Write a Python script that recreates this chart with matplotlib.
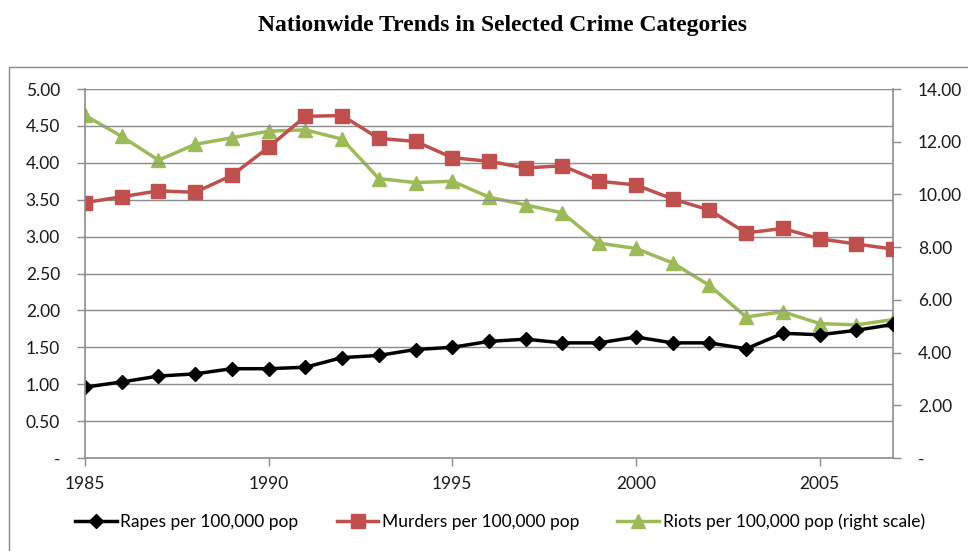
import matplotlib
matplotlib.use("Agg")
import matplotlib.pyplot as plt
from matplotlib.patches import Rectangle
from matplotlib.ticker import FuncFormatter, MultipleLocator

years = list(range(1985, 2008))

rapes = [0.96, 1.03, 1.11, 1.14, 1.21, 1.21, 1.23, 1.36, 1.39, 1.47, 1.50,
         1.58, 1.61, 1.56, 1.56, 1.64, 1.56, 1.56, 1.48, 1.69, 1.67, 1.73, 1.81]

murders = [3.46, 3.54, 3.62, 3.60, 3.83, 4.21, 4.63, 4.64, 4.33, 4.29, 4.07,
           4.02, 3.93, 3.96, 3.75, 3.70, 3.51, 3.36, 3.05, 3.11, 2.97, 2.90, 2.83]

# right scale
riots = [13.0, 12.2, 11.3, 11.9, 12.15, 12.4, 12.45, 12.1, 10.6, 10.45, 10.5,
         9.9, 9.6, 9.3, 8.15, 7.95, 7.4, 6.55, 5.35, 5.55, 5.1, 5.05, 5.25]

labels = ["Rapes per 100,000 pop", "Murders per 100,000 pop",
          "Riots per 100,000 pop (right scale)"]

col_rape = "#000000"
col_murder = "#c0504d"
col_riot = "#9bbb59"
grid_col = "#8c8c8c"
txt_col = "#1a1a1a"

plt.rcParams['font.family'] = ['Lato', 'DejaVu Sans']

fig = plt.figure(figsize=(9.68, 5.51), dpi=100)
ax = fig.add_axes([85/968, 1-458/551, (893-85)/968, (458-89)/551])
ax2 = ax.twinx()

# outer chart border
fig.patches.append(Rectangle((9/968, -0.05), 1.1, 1-67/551+0.05,
                             transform=fig.transFigure, fill=False,
                             edgecolor="#888888", linewidth=1.0))

fig.text(503/968, 1-25/551, "Nationwide Trends in Selected Crime Categories",
         ha="center", va="center", fontsize=17, fontweight="bold",
         family="Liberation Serif", color="#000000")

l1, = ax.plot(years, rapes, color=col_rape, marker="D", markersize=7,
              linewidth=2.5, label=labels[0])
l2, = ax.plot(years, murders, color=col_murder, marker="s", markersize=10,
              linewidth=2.5, label=labels[1])
l3, = ax2.plot(years, riots, color=col_riot, marker="^", markersize=10,
               linewidth=2.5, label=labels[2])
ax.set_zorder(ax2.get_zorder() + 1)
ax.patch.set_visible(False)

ax.set_xlim(1985, 2007)
ax.set_ylim(0, 5)
ax2.set_ylim(0, 14)
ax.set_xticks([1985, 1990, 1995, 2000, 2005])
ax.yaxis.set_major_locator(MultipleLocator(0.5))
ax2.yaxis.set_major_locator(MultipleLocator(2))

fmt = FuncFormatter(lambda v, p: "-" if abs(v) < 1e-9 else f"{v:.2f}")
ax.yaxis.set_major_formatter(fmt)
ax2.yaxis.set_major_formatter(fmt)

ax.grid(axis="y", color=grid_col, linewidth=1.0)
ax.set_axisbelow(True)

for a in (ax, ax2):
    for s in a.spines.values():
        s.set_visible(False)
    a.tick_params(colors=grid_col, labelcolor=txt_col, labelsize=12.5,
                  length=6, width=1)
ax.spines["left"].set_visible(True)
ax.spines["bottom"].set_visible(True)
ax2.spines["right"].set_visible(True)
for s in (ax.spines["left"], ax.spines["bottom"], ax2.spines["right"]):
    s.set_color(grid_col)
    s.set_linewidth(1.2)
ax.tick_params(axis="y", pad=12)
ax2.tick_params(axis="y", which="major", pad=12)
ax.tick_params(axis="x", pad=7)

fig.legend(handles=[l1, l2, l3], loc="center", ncol=3,
           bbox_to_anchor=(500/968, 1-522/551), frameon=False, fontsize=12.5,
           handlelength=2.4, handletextpad=0.2, columnspacing=2.2)

fig.savefig("out.png", dpi=100)
